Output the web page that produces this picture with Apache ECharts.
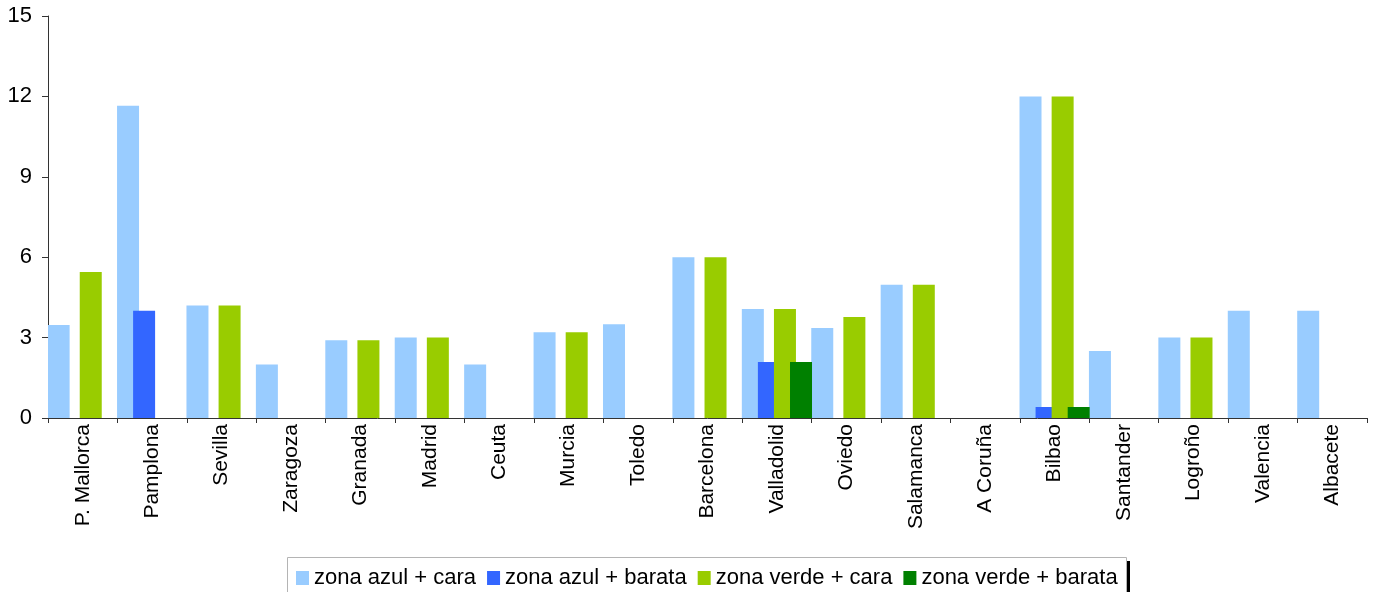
<!DOCTYPE html>
<html>
<head>
<meta charset="utf-8">
<script src="https://cdn.jsdelivr.net/npm/echarts@6/dist/echarts.min.js"></script>
<style>
  html, body { margin: 0; padding: 0; background: #fff; }
  #main { width: 1375px; height: 592px; }
</style>
</head>
<body>
<div id="main"></div>
<script>
var cities = ['P. Mallorca', 'Pamplona', 'Sevilla', 'Zaragoza', 'Granada', 'Madrid', 'Ceuta', 'Murcia', 'Toledo',
  'Barcelona', 'Valladolid', 'Oviedo', 'Salamanca', 'A Coruña', 'Bilbao', 'Santander', 'Logroño', 'Valencia', 'Albacete']

var azulCara    = [3.47, 11.65, 4.2, 2.0, 2.9, 3.0, 2.0, 3.2, 3.5, 6.0, 4.07, 3.36, 4.97, null, 12.0, 2.5, 3.0, 4.0, 4.0]
var azulBarata  = [null, 4.0, null, null, null, null, null, null, null, null, 2.09, null, null, null, 0.41, null, null, null, null]
var verdeCara   = [5.45, null, 4.2, null, 2.9, 3.0, null, 3.2, null, 6.0, 4.07, 3.77, 4.97, null, 12.0, null, 3.0, null, null]
var verdeBarata = [null, null, null, null, null, null, null, null, null, null, 2.09, null, null, null, 0.41, null, null, null, null]

var seriesNames = ['zona azul + cara', 'zona azul + barata', 'zona verde + cara', 'zona verde + barata']
var seriesColors = ['#99CCFF', '#3366FF', '#99CC00', '#008000']
var seriesData = [azulCara, azulBarata, verdeCara, verdeBarata]

var font = 'Liberation Sans, Arial, sans-serif'

var myChart = echarts.init(document.getElementById('main'))

var series = []
for (var i = 0; i < seriesNames.length; i++) {
  series.push({
    name: seriesNames[i],
    type: 'bar',
    data: seriesData[i],
    barWidth: 22,
    barGap: '-27%',
    itemStyle: { color: seriesColors[i] }
  })
}

var option = {
  animation: false,
  textStyle: { fontFamily: font },
  grid: { left: 48, right: 8, top: 16, bottom: 174 },
  // legend frame: black drop shadow, white box, grey border
  graphic: [
    { type: 'rect', z: 0, shape: { x: 291, y: 561, width: 839, height: 42 }, style: { fill: '#000' } },
    { type: 'rect', z: 1, shape: { x: 287, y: 557, width: 840, height: 43 }, style: { fill: '#fff' } },
    { type: 'rect', z: 10, shape: { x: 287.5, y: 557.5, width: 839, height: 42 }, style: { fill: null, stroke: '#b4b4b4', lineWidth: 1 } }
  ],
  legend: {
    data: seriesNames,
    left: 287,
    top: 557,
    orient: 'horizontal',
    icon: 'rect',
    itemWidth: 13,
    itemHeight: 14,
    itemGap: 11,
    padding: [10, 11, 10, 9],
    textStyle: { fontSize: 22, color: '#000', fontFamily: font }
  },
  xAxis: {
    type: 'category',
    data: cities,
    axisLine: { lineStyle: { color: '#333', width: 1 } },
    axisTick: { show: true, alignWithLabel: false, length: 5, lineStyle: { color: '#333' } },
    axisLabel: { rotate: 90, interval: 0, fontSize: 21, color: '#000', margin: 6 },
    splitLine: { show: false }
  },
  yAxis: {
    type: 'value',
    min: 0,
    max: 15,
    interval: 3,
    axisLine: { show: true, lineStyle: { color: '#333', width: 1 } },
    axisTick: { show: true, length: 6, lineStyle: { color: '#333' } },
    axisLabel: { fontSize: 22, color: '#000', margin: 16 },
    splitLine: { show: false }
  },
  series: series
}

myChart.setOption(option)
</script>
</body>
</html>
